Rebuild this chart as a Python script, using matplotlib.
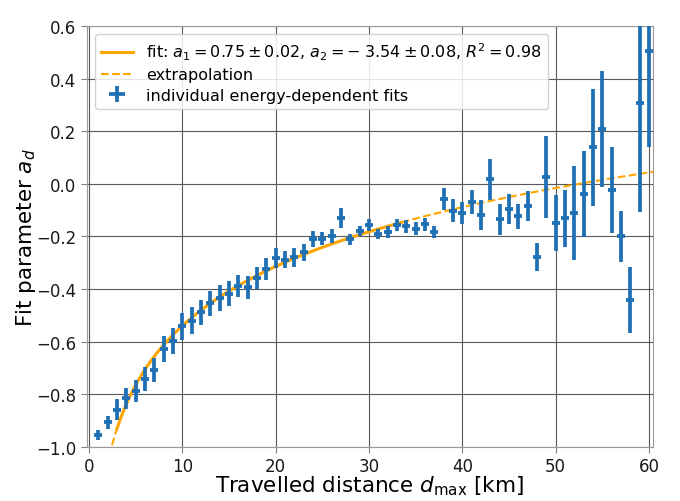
import numpy as np
import matplotlib
matplotlib.use("Agg")
import matplotlib.pyplot as plt

# individual energy-dependent fits
d_km = np.arange(1, 61)
a_d = [-0.955, -0.907, -0.859, -0.816, -0.787, -0.742, -0.707, -0.628, -0.597, -0.542,
       -0.520, -0.489, -0.455, -0.435, -0.417, -0.390, -0.394, -0.358, -0.323, -0.282,
       -0.288, -0.280, -0.261, -0.210, -0.208, -0.197, -0.131, -0.211, -0.180, -0.157,
       -0.191, -0.184, -0.157, -0.162, -0.171, -0.153, -0.184, -0.058, -0.102, -0.111,
       -0.068, -0.118, 0.018, -0.134, -0.096, -0.124, -0.083, -0.279, 0.027, -0.150,
       -0.131, -0.112, -0.038, 0.139, 0.208, -0.023, -0.200, -0.442, 0.307, 0.504]
a_err = [0.018, 0.025, 0.040, 0.040, 0.042, 0.045, 0.045, 0.050, 0.050, 0.050,
         0.050, 0.048, 0.046, 0.050, 0.048, 0.042, 0.044, 0.041, 0.041, 0.038,
         0.033, 0.035, 0.034, 0.030, 0.026, 0.027, 0.038, 0.022, 0.020, 0.023,
         0.020, 0.022, 0.024, 0.024, 0.025, 0.025, 0.023, 0.042, 0.044, 0.043,
         0.046, 0.058, 0.078, 0.059, 0.057, 0.049, 0.057, 0.053, 0.155, 0.106,
         0.108, 0.179, 0.163, 0.222, 0.220, 0.163, 0.097, 0.125, 0.413, 0.365]
d_err = 0.42

# fit parameters from the legend
a1, a2 = 0.75, -3.54
fit_range = (3.0, 33.5)

def model(d):
    return a1 * np.log10(d * 1000) + a2

fig = plt.figure(figsize=(6.8, 5.02), dpi=100)
ax = fig.add_axes([0.128, 0.108, 0.832, 0.838])

blue = "#1f6fb4"
orange = "orange"

d_fit = np.linspace(fit_range[0], fit_range[1], 200)
ax.plot(d_fit, model(d_fit), color=orange, lw=2.2, zorder=3,
        label=r"fit: $a_1 = 0.75 \pm 0.02$, $a_2 = -\;3.54 \pm 0.08$, $R^2 = 0.98$")
d_lo = np.linspace(1.5, fit_range[0], 50)
d_hi = np.linspace(fit_range[1], 61, 200)
ax.plot(d_lo, model(d_lo), color=orange, lw=1.5, ls="--", zorder=3)
ax.plot(d_hi, model(d_hi), color=orange, lw=1.5, ls="--", zorder=3,
        label="extrapolation")

ax.errorbar(d_km, a_d, yerr=a_err, xerr=d_err, fmt="none", ecolor=blue,
            elinewidth=2.7, zorder=4, label="individual energy-dependent fits")

ax.set_xlim(-0.2, 60.4)
ax.set_ylim(-1.0, 0.6)
ax.set_xticks([0, 10, 20, 30, 40, 50, 60])
ax.set_yticks(np.arange(-1.0, 0.61, 0.2))
ax.grid(True, color="0.35", lw=0.8)
ax.set_axisbelow(True)
for s in ax.spines.values():
    s.set_color("0.6")
ax.tick_params(colors="0.5", labelcolor="0.1", labelsize=12, length=4)

ax.set_xlabel(r"Travelled distance $d_\mathrm{max}$ [km]", fontsize=15.5, labelpad=-1)
ax.set_ylabel(r"Fit parameter $a_d$", fontsize=15.5, labelpad=-1.5)

ax.legend(loc="upper left", fontsize=11.5, framealpha=0.85, borderaxespad=0.5,
          handlelength=2.0, labelspacing=0.35)

fig.savefig("out.png", dpi=100)
